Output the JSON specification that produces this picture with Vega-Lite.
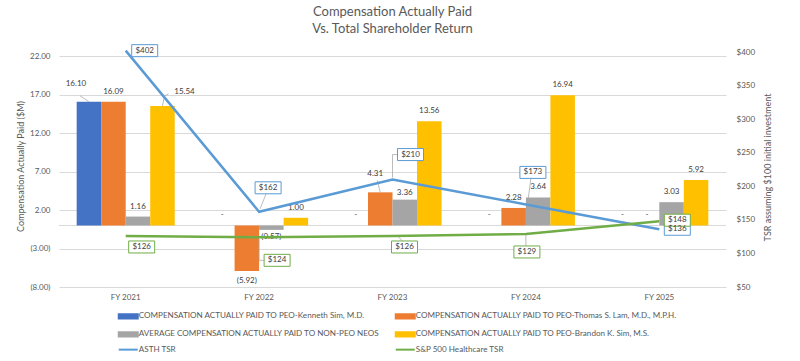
{
 "$schema": "https://vega.github.io/schema/vega-lite/v6.json",
 "width": 667,
 "height": 235,
 "autosize": "none",
 "padding": {"left": 59, "top": 52, "right": 74, "bottom": 74},
 "background": "white",
 "title": {"text": ["Compensation Actually Paid", "Vs. Total Shareholder Return"], "font": "Lato", "fontSize": 13, "fontWeight": "normal", "color": "#595959", "lineHeight": 17, "offset": 6.5, "anchor": "middle"},
 "config": {
  "view": {"stroke": null},
  "axis": {"labelFont": "Lato", "titleFont": "Lato", "labelColor": "#595959", "titleColor": "#595959", "labelFontSize": 8, "titleFontSize": 9, "titleFontWeight": "normal", "ticks": false, "tickSize": 0, "domain": false, "labelOverlap": false}
 },
 "datasets": {
  "bars": [
   {"year": "FY 2021", "series": "COMPENSATION ACTUALLY PAID TO PEO-Kenneth Sim, M.D.", "value": 16.10},
   {"year": "FY 2021", "series": "COMPENSATION ACTUALLY PAID TO PEO-Thomas S. Lam, M.D., M.P.H.", "value": 16.09},
   {"year": "FY 2021", "series": "AVERAGE COMPENSATION ACTUALLY PAID TO NON-PEO NEOS", "value": 1.16},
   {"year": "FY 2021", "series": "COMPENSATION ACTUALLY PAID TO PEO-Brandon K. Sim, M.S.", "value": 15.54},
   {"year": "FY 2022", "series": "COMPENSATION ACTUALLY PAID TO PEO-Kenneth Sim, M.D.", "value": 0},
   {"year": "FY 2022", "series": "COMPENSATION ACTUALLY PAID TO PEO-Thomas S. Lam, M.D., M.P.H.", "value": -5.92},
   {"year": "FY 2022", "series": "AVERAGE COMPENSATION ACTUALLY PAID TO NON-PEO NEOS", "value": -0.57},
   {"year": "FY 2022", "series": "COMPENSATION ACTUALLY PAID TO PEO-Brandon K. Sim, M.S.", "value": 1.00},
   {"year": "FY 2023", "series": "COMPENSATION ACTUALLY PAID TO PEO-Kenneth Sim, M.D.", "value": 0},
   {"year": "FY 2023", "series": "COMPENSATION ACTUALLY PAID TO PEO-Thomas S. Lam, M.D., M.P.H.", "value": 4.31},
   {"year": "FY 2023", "series": "AVERAGE COMPENSATION ACTUALLY PAID TO NON-PEO NEOS", "value": 3.36},
   {"year": "FY 2023", "series": "COMPENSATION ACTUALLY PAID TO PEO-Brandon K. Sim, M.S.", "value": 13.56},
   {"year": "FY 2024", "series": "COMPENSATION ACTUALLY PAID TO PEO-Kenneth Sim, M.D.", "value": 0},
   {"year": "FY 2024", "series": "COMPENSATION ACTUALLY PAID TO PEO-Thomas S. Lam, M.D., M.P.H.", "value": 2.28},
   {"year": "FY 2024", "series": "AVERAGE COMPENSATION ACTUALLY PAID TO NON-PEO NEOS", "value": 3.64},
   {"year": "FY 2024", "series": "COMPENSATION ACTUALLY PAID TO PEO-Brandon K. Sim, M.S.", "value": 16.94},
   {"year": "FY 2025", "series": "COMPENSATION ACTUALLY PAID TO PEO-Kenneth Sim, M.D.", "value": 0},
   {"year": "FY 2025", "series": "COMPENSATION ACTUALLY PAID TO PEO-Thomas S. Lam, M.D., M.P.H.", "value": 0},
   {"year": "FY 2025", "series": "AVERAGE COMPENSATION ACTUALLY PAID TO NON-PEO NEOS", "value": 3.03},
   {"year": "FY 2025", "series": "COMPENSATION ACTUALLY PAID TO PEO-Brandon K. Sim, M.S.", "value": 5.92}
  ],
  "tsr": [
   {"year": "FY 2021", "series": "ASTH TSR", "value": 402},
   {"year": "FY 2022", "series": "ASTH TSR", "value": 162},
   {"year": "FY 2023", "series": "ASTH TSR", "value": 210},
   {"year": "FY 2024", "series": "ASTH TSR", "value": 173},
   {"year": "FY 2025", "series": "ASTH TSR", "value": 136},
   {"year": "FY 2021", "series": "S&P 500 Healthcare TSR", "value": 126},
   {"year": "FY 2022", "series": "S&P 500 Healthcare TSR", "value": 124},
   {"year": "FY 2023", "series": "S&P 500 Healthcare TSR", "value": 126},
   {"year": "FY 2024", "series": "S&P 500 Healthcare TSR", "value": 129},
   {"year": "FY 2025", "series": "S&P 500 Healthcare TSR", "value": 148}
  ]
 },
 "layer": [
  {
   "layer": [
    {
     "data": {"values": [{}]},
     "mark": {"type": "rule", "color": "#D9D9D9", "strokeWidth": 1},
     "encoding": {"y": {"datum": 0, "type": "quantitative"}}
    },
    {
     "data": {"name": "bars"},
     "mark": {"type": "bar"},
     "encoding": {
      "x": {"field": "year", "type": "nominal", "scale": {"paddingInner": 0.265, "paddingOuter": 0.1325}, "axis": {"title": null, "labelAngle": 0, "labelPadding": 6, "grid": false}},
      "xOffset": {"field": "series", "type": "nominal", "scale": {"domain": ["COMPENSATION ACTUALLY PAID TO PEO-Kenneth Sim, M.D.", "COMPENSATION ACTUALLY PAID TO PEO-Thomas S. Lam, M.D., M.P.H.", "AVERAGE COMPENSATION ACTUALLY PAID TO NON-PEO NEOS", "COMPENSATION ACTUALLY PAID TO PEO-Brandon K. Sim, M.S."], "paddingInner": 0, "paddingOuter": 0}},
      "y": {"field": "value", "type": "quantitative", "scale": {"domain": [-8, 22.56], "nice": false, "zero": false}, "axis": {"values": [-8, -3, 2, 7, 12, 17, 22], "tickCount": 20, "format": "(.2f", "labelOverlap": false, "title": "Compensation Actually Paid ($M)", "grid": true, "gridColor": "#D9D9D9", "labelPadding": 9, "titleAngle": 270, "titleBaseline": "middle", "titleX": -39, "titleY": 114}},
      "color": {"field": "series", "type": "nominal",
       "scale": {"domain": ["COMPENSATION ACTUALLY PAID TO PEO-Kenneth Sim, M.D.", "COMPENSATION ACTUALLY PAID TO PEO-Thomas S. Lam, M.D., M.P.H.", "AVERAGE COMPENSATION ACTUALLY PAID TO NON-PEO NEOS", "COMPENSATION ACTUALLY PAID TO PEO-Brandon K. Sim, M.S.", "ASTH TSR", "S&P 500 Healthcare TSR"], "range": ["#4472C4", "#ED7D31", "#A5A5A5", "#FFC000", "#5B9BD5", "#70AD47"]},
       "legend": {"orient": "none", "direction": "horizontal", "legendX": 56.7, "legendY": 260, "columns": 2, "columnPadding": 12, "rowPadding": 4.3, "labelFont": "Lato", "labelFontSize": 8.1, "labelColor": "#595959", "labelLimit": 400, "labelOffset": 15, "symbolSize": 4, "title": null, "padding": 0,
        "encode": {"symbols": {"update": {
         "shape": {"signal": "indexof(['ASTH TSR','S&P 500 Healthcare TSR'], datum.value) >= 0 ? 'M-1,0H18' : 'M-1,-2.2H18V2.2H-1Z'"},
         "fill": {"signal": "indexof(['ASTH TSR','S&P 500 Healthcare TSR'], datum.value) >= 0 ? 'transparent' : scale('color', datum.value)"},
         "stroke": {"signal": "indexof(['ASTH TSR','S&P 500 Healthcare TSR'], datum.value) >= 0 ? scale('color', datum.value) : 'transparent'"},
         "strokeWidth": {"value": 2},
         "size": {"value": 4},
         "opacity": {"value": 1}
        }}}
       }
      }
     }
    },
    {
     "data": {"name": "bars"},
     "mark": {"type": "point", "filled": false, "fill": null, "stroke": "#A6A6A6", "strokeWidth": 0.75, "opacity": 1, "size": 4,
      "shape": {"expr": "indexof(datum.series,'Kenneth')>=0 && datum.year=='FY 2021' ? 'M0,0L-9,-6' : indexof(datum.series,'Brandon')>=0 && datum.year=='FY 2021' ? 'M0,0L2,-10L6,-12' : indexof(datum.series,'Thomas')>=0 && datum.year=='FY 2023' ? 'M0,0L-3,-12' : 'M0,0'"}
     },
     "encoding": {
      "x": {"field": "year", "type": "nominal"},
      "xOffset": {"field": "series", "type": "nominal"},
      "y": {"field": "value", "type": "quantitative"}
     }
    },
    {
     "data": {"name": "bars"},
     "mark": {"type": "text", "font": "Lato", "fontSize": 8, "color": "#404040", "baseline": "middle", "align": "center",
      "dx": {"expr": "indexof(datum.series,'Kenneth')>=0 && datum.year=='FY 2021' ? -13 : indexof(datum.series,'Brandon')>=0 && datum.year=='FY 2021' ? 22 : indexof(datum.series,'Thomas')>=0 && datum.year=='FY 2023' ? -5 : 0"},
      "dy": {"expr": "datum.value < 0 ? (datum.value < -1 ? 10 : 7) : indexof(datum.series,'Kenneth')>=0 && datum.year=='FY 2021' ? -18 : indexof(datum.series,'Brandon')>=0 && datum.year=='FY 2021' ? -14 : indexof(datum.series,'Thomas')>=0 && datum.year=='FY 2023' ? -18 : indexof(datum.series,'NON-PEO')>=0 && datum.year=='FY 2023' ? -7 : -10"}
     },
     "encoding": {
      "x": {"field": "year", "type": "nominal"},
      "xOffset": {"field": "series", "type": "nominal"},
      "y": {"field": "value", "type": "quantitative"},
      "text": {"condition": {"test": "datum.value === 0", "value": "-"}, "field": "value", "type": "quantitative", "format": "(.2f"}
     }
    }
   ]
  },
  {
   "data": {"name": "tsr"},
   "layer": [
    {
     "mark": {"type": "line", "strokeWidth": 2.5},
     "encoding": {
      "x": {"field": "year", "type": "nominal"},
      "y": {"field": "value", "type": "quantitative", "scale": {"domain": [50, 400], "nice": false, "zero": false}, "axis": {"orient": "right", "values": [50, 100, 150, 200, 250, 300, 350, 400], "tickCount": 20, "format": "$d", "labelOverlap": false, "grid": false, "title": "TSR assuming $100 initial investment", "labelPadding": 10, "titleAngle": 270, "titleBaseline": "middle", "titleX": 41, "titleY": 115}},
      "color": {"field": "series", "type": "nominal", "scale": {"domain": ["COMPENSATION ACTUALLY PAID TO PEO-Kenneth Sim, M.D.", "COMPENSATION ACTUALLY PAID TO PEO-Thomas S. Lam, M.D., M.P.H.", "AVERAGE COMPENSATION ACTUALLY PAID TO NON-PEO NEOS", "COMPENSATION ACTUALLY PAID TO PEO-Brandon K. Sim, M.S.", "ASTH TSR", "S&P 500 Healthcare TSR"], "range": ["#4472C4", "#ED7D31", "#A5A5A5", "#FFC000", "#5B9BD5", "#70AD47"]}}
     }
    },
    {
     "mark": {"type": "point", "filled": false, "fill": null, "stroke": "#A6A6A6", "strokeWidth": 0.75, "opacity": 1, "size": 4,
      "shape": {"expr": "(datum.series=='ASTH TSR' ? ['M0,0','M1,-3L7,-18','M0,-2V-25H5','M2,-3L5,-26','M0,0'] : ['M0,0','M0,2V23H5','M6,1L10,5','M0,1V12','M0,0'])[indexof(['FY 2021','FY 2022','FY 2023','FY 2024','FY 2025'], datum.year)]"}
     },
     "encoding": {
      "x": {"field": "year", "type": "nominal"},
      "y": {"field": "value", "type": "quantitative"}
     }
    },
    {
     "mark": {"type": "point", "filled": true, "fill": "white", "opacity": 1, "size": 4, "strokeWidth": 1,
      "shape": {"expr": "'M' + ((datum.series=='ASTH TSR' ? [19,9,18,7,18] : [16,18,12,1,18])[indexof(['FY 2021','FY 2022','FY 2023','FY 2024','FY 2025'], datum.year)] - 13) + ',' + ((datum.series=='ASTH TSR' ? [0,-24,-25,-32,0] : [11,23,11,18,-1])[indexof(['FY 2021','FY 2022','FY 2023','FY 2024','FY 2025'], datum.year)] - 6) + 'h26v12h-26Z'"}
     },
     "encoding": {
      "x": {"field": "year", "type": "nominal"},
      "y": {"field": "value", "type": "quantitative"},
      "stroke": {"condition": {"test": "datum.series=='ASTH TSR'", "value": "#5B9BD5"}, "value": "#70AD47"}
     }
    },
    {
     "mark": {"type": "text", "font": "Lato", "fontSize": 8, "color": "#404040", "baseline": "middle", "align": "center",
      "dx": {"expr": "(datum.series=='ASTH TSR' ? [19,9,18,7,18] : [16,18,12,1,18])[indexof(['FY 2021','FY 2022','FY 2023','FY 2024','FY 2025'], datum.year)]"},
      "dy": {"expr": "(datum.series=='ASTH TSR' ? [0,-24,-25,-32,0] : [11,23,11,18,-1])[indexof(['FY 2021','FY 2022','FY 2023','FY 2024','FY 2025'], datum.year)]"}
     },
     "encoding": {
      "x": {"field": "year", "type": "nominal"},
      "y": {"field": "value", "type": "quantitative"},
      "text": {"field": "value", "type": "quantitative", "format": "$d"}
     }
    }
   ]
  }
 ],
 "resolve": {"scale": {"y": "independent"}}
}
